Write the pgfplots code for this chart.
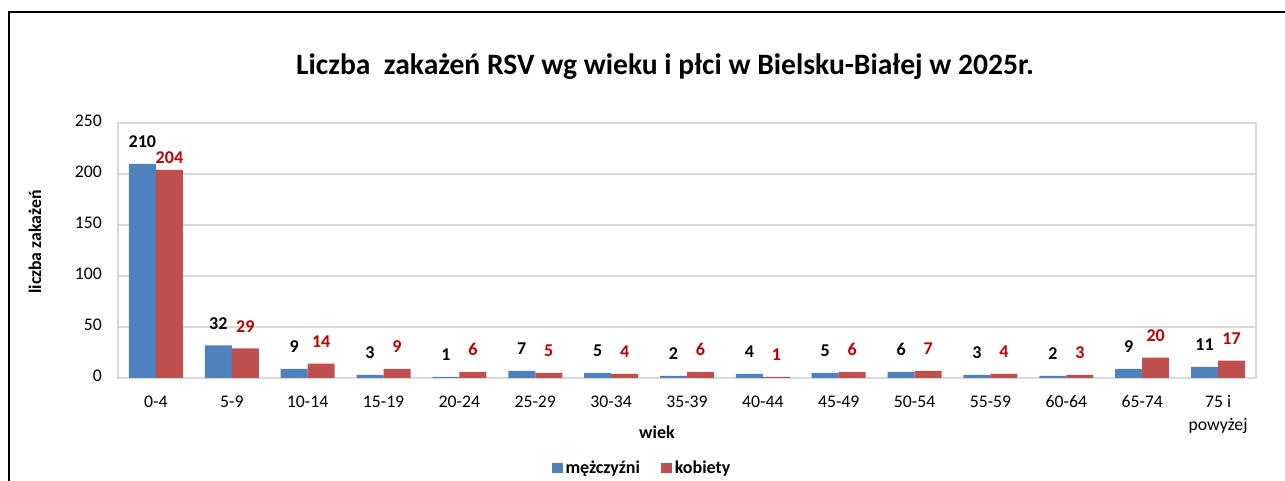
\documentclass[border=0pt]{standalone}
\usepackage{pgfplots}
\usepackage{pgfplotstable}
\pgfplotsset{compat=1.18}
\usepackage{fontspec}
\setmainfont{Carlito}
\definecolor{mblue}{HTML}{4F81BD}
\definecolor{fred}{HTML}{C0504D}
\definecolor{lred}{HTML}{C00000}
\definecolor{gridc}{HTML}{D9D9D9}

\pgfplotstableread{
x y off
0 210 16.5
1 32 16.5
2 9 16.5
3 3 16.5
4 1 16.5
5 7 16.5
6 5 16.5
7 2 16.5
8 4 16.5
9 5 16.5
10 6 16.5
11 3 16.5
12 2 16.5
13 9 16.5
14 11 16.5
}\men
\pgfplotstableread{
x y off
0 204 9
1 29 16.5
2 14 16.5
3 9 16.5
4 6 16.5
5 5 16.5
6 4 16.5
7 6 16.5
8 1 16.5
9 6 16.5
10 7 16.5
11 4 16.5
12 3 16.5
13 20 16.5
14 17 16.5
}\women

\begin{document}
\begin{tikzpicture}
\begin{axis}[
  at={(88.5pt,77.25pt)}, anchor=south west,
  scale only axis, width=853.5pt, height=191.25pt,
  ybar=0pt, bar width=20.25pt,
  xmin=-0.5, xmax=14.5, ymin=0, ymax=250,
  ytick={0,50,100,150,200,250},
  xtick=data,
  xticklabels={0-4,5-9,10-14,15-19,20-24,25-29,30-34,35-39,40-44,45-49,50-54,55-59,60-64,65-74,{75 i\\powyżej}},
  typeset ticklabels with strut,
  xticklabel style={align=center, font=\fontsize{13.3}{17.5}\selectfont, yshift=-6pt},
  yticklabel style={font=\fontsize{13.3}{15}\selectfont, xshift=-8.5pt},
  /pgf/number format/assume math mode=true,
  major tick length=0pt,
  axis line style={gridc, line width=1.5pt},
  ymajorgrids, grid style={gridc, line width=1.3pt},
  ylabel={\bfseries liczba zakażeń},
  ylabel style={font=\fontsize{13.3}{15}\selectfont, at={(axis description cs:-0.0729,0.533)}, anchor=center, rotate=0},
  xlabel={\bfseries wiek},
  xlabel style={font=\fontsize{13.5}{15}\selectfont, at={(axis description cs:0.4736,-0.212)}, anchor=center},
  legend style={at={(axis description cs:0.461,-0.353)}, anchor=center, draw=none, fill=none,
    legend columns=2, font=\bfseries\fontsize{13.5}{15}\selectfont,
    /tikz/every even column/.append style={column sep=14pt}},
  legend image code/.code={\fill[#1] (0pt,-4pt) rectangle (8pt,4pt);},
  nodes near coords,
  visualization depends on={\thisrow{off}\as\myoff},
  every node near coord/.append style={anchor=center, yshift=\myoff pt, font=\bfseries\fontsize{13.5}{15}\selectfont},
]
\addplot[fill=mblue, draw=none, nodes near coords style={text=black}] table[x=x,y=y] {\men};
\addplot[fill=fred, draw=none, nodes near coords style={text=lred}] table[x=x,y=y] {\women};
\legend{mężczyźni,kobiety}
\end{axis}
\node[font=\bfseries\fontsize{22.2}{26}\selectfont] at (498.75pt,310.5pt) {Liczba\ \ zakażeń RSV wg wieku i płci w Bielsku-Białej w 2025r.};
\draw[line width=1.5pt] (6.75pt,0pt) -- (6.75pt,351.75pt) -- (970pt,351.75pt);
\pgfresetboundingbox
\path[use as bounding box] (0,0) rectangle (963.75pt,360.75pt);
\end{tikzpicture}
\end{document}
